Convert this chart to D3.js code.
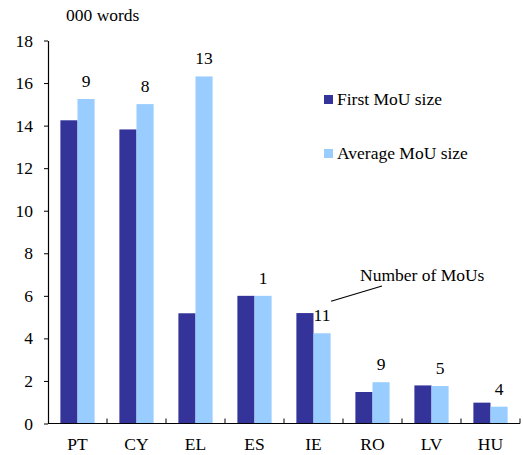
<!DOCTYPE html>
<html>
<head>
<meta charset="utf-8">
<script src="https://cdn.jsdelivr.net/npm/d3@7"></script>
</head>
<body style="margin:0; background:#fff">
<svg></svg>
<script>
const countries = ['PT', 'CY', 'EL', 'ES', 'IE', 'RO', 'LV', 'HU']
const firstSize = [14.25, 13.82, 5.18, 6.0, 5.19, 1.48, 1.79, 0.98]
const avgSize = [15.25, 15.01, 16.31, 6.0, 4.24, 1.94, 1.76, 0.79]
const mouCount = [9, 8, 13, 1, 11, 9, 5, 4]
const yTicks = [0, 2, 4, 6, 8, 10, 12, 14, 16, 18]
const seriesNames = ['First MoU size', 'Average MoU size']

let width = 524
let height = 455
let margin = { top: 40.5, right: 4, bottom: 31.5, left: 48 }
let colors = ['#333399', '#99ccff']
let serif = 'Liberation Serif'

let svg = d3.select('svg')
    .attr('width', width)
    .attr('height', height)

let x = d3.scaleBand()
          .domain(countries)
          .range([margin.left, width - margin.right])
          .paddingInner(0.42)
          .paddingOuter(0.21)

let xSub = d3.scaleBand()
             .domain([0, 1])
             .range([0, x.bandwidth()])

let y = d3.scaleLinear()
          .domain([0, 18])
          .range([height - margin.bottom, margin.top])

let data = countries.map((c, i) => ({ c, vals: [firstSize[i], avgSize[i]], n: mouCount[i] }))

// bars
let groups = svg.append('g')
  .selectAll('g')
  .data(data)
  .enter()
  .append('g')
    .attr('transform', d => `translate(${x(d.c)},0)`)

groups.selectAll('rect')
  .data(d => d.vals)
  .enter()
  .append('rect')
    .attr('x', (d, i) => xSub(i))
    .attr('width', xSub.bandwidth())
    .attr('y', d => y(d))
    .attr('height', d => y(0) - y(d))
    .attr('fill', (d, i) => colors[i])

// number of MoUs labels
groups.append('text')
  .attr('x', xSub(1) + xSub.bandwidth() / 2)
  .attr('y', d => y(d.vals[1]) - 12)
  .attr('text-anchor', 'middle')
  .style('font-family', serif)
  .style('font-size', '17.5px')
  .text(d => d.n)

// y axis
let yAxis = svg.append('g')
  .attr('transform', `translate(${margin.left},0)`)
  .call(d3.axisLeft(y).tickValues(yTicks).tickSize(4).tickSizeOuter(0))
yAxis.select('.domain').attr('stroke', '#000').attr('stroke-width', 1.2)
yAxis.selectAll('.tick line').attr('stroke', '#000')
yAxis.selectAll('.tick text')
  .attr('x', -15)
  .attr('fill', '#000')
  .style('font-family', serif)
  .style('font-size', '17.5px')

// x axis with tick marks at category boundaries, pointing up
let xAxisG = svg.append('g')
  .attr('transform', `translate(0,${y(0)})`)
xAxisG.append('line')
  .attr('x1', margin.left)
  .attr('x2', width - margin.right)
  .attr('stroke', '#000')
  .attr('stroke-width', 1.2)
let step = x.step()
xAxisG.selectAll('.bound')
  .data(countries)
  .enter()
  .append('line')
    .attr('x1', d => x(d) - x.paddingOuter() * step + step)
    .attr('x2', d => x(d) - x.paddingOuter() * step + step)
    .attr('y1', 0)
    .attr('y2', -5)
    .attr('stroke', '#000')
xAxisG.selectAll('.lab')
  .data(countries)
  .enter()
  .append('text')
    .attr('x', d => x(d) + x.bandwidth() / 2)
    .attr('y', 26.5)
    .attr('text-anchor', 'middle')
    .style('font-family', serif)
    .style('font-size', '17.5px')
    .text(d => d)

// unit label
svg.append('text')
  .attr('x', 66)
  .attr('y', 21)
  .style('font-family', serif)
  .style('font-size', '17.5px')
  .text('000 words')

// legend
let legend = svg.append('g')
  .selectAll('g')
  .data(seriesNames)
  .enter()
  .append('g')
    .attr('transform', (d, i) => `translate(324,${95 + i * 54})`)
legend.append('rect')
  .attr('width', 9)
  .attr('height', 9)
  .attr('fill', (d, i) => colors[i])
legend.append('text')
  .attr('x', 13)
  .attr('y', 10)
  .style('font-family', serif)
  .style('font-size', '17.5px')
  .text(d => d)

// annotation
let ie = data[4]
let ax = x(ie.c) + xSub(1) + xSub.bandwidth() / 2
svg.append('line')
  .attr('x1', ax + 9)
  .attr('y1', y(ie.vals[1]) - 32)
  .attr('x2', 382)
  .attr('y2', 286)
  .attr('stroke', '#000')
  .attr('stroke-width', 1.2)
svg.append('text')
  .attr('x', 360)
  .attr('y', 281)
  .style('font-family', serif)
  .style('font-size', '17.5px')
  .text('Number of MoUs')
</script>
</body>
</html>
